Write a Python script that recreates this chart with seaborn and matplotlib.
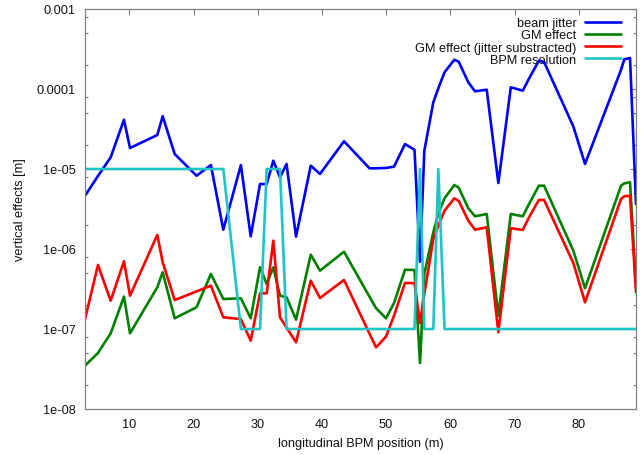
import numpy as np
import pandas as pd
import matplotlib
matplotlib.use("Agg")
import matplotlib.pyplot as plt
import matplotlib.ticker as mticker
import seaborn as sns

# ---- data ----
bpm_pos = [3.10, 5.12, 7.10, 9.17, 10.11, 14.36, 15.20, 17.07, 20.47, 22.71,
           24.64, 27.38, 28.91, 30.36, 31.40, 32.43, 33.47, 34.49, 35.97, 38.26,
           39.70, 43.44, 47.41, 48.43, 49.98, 51.23, 52.94, 54.42, 55.28, 55.95,
           57.35, 58.13, 59.10, 60.62, 61.31, 62.80, 63.85, 65.67, 67.48, 69.42,
           71.28, 72.26, 73.79, 74.60, 79.16, 80.98, 86.59, 87.10, 87.99, 88.92]

beam_jitter = [4.63e-6, 8.18e-6, 1.40e-5, 4.13e-5, 1.83e-5, 2.66e-5, 4.56e-5, 1.54e-5, 8.24e-6, 1.12e-5,
               1.74e-6, 1.12e-5, 1.44e-6, 6.49e-6, 6.49e-6, 1.27e-5, 7.87e-6, 1.155e-5, 1.43e-6, 1.10e-5,
               8.66e-6, 2.22e-5, 1.02e-5, 1.02e-5, 1.03e-5, 1.07e-5, 2.05e-5, 1.74e-5, 6.94e-7, 1.69e-5,
               6.82e-5, 1.02e-4, 1.62e-4, 2.32e-4, 2.19e-4, 1.21e-4, 9.36e-5, 9.80e-5, 6.68e-6, 1.05e-4,
               9.53e-5, 1.35e-4, 2.26e-4, 2.18e-4, 3.40e-5, 1.155e-5, 1.74e-4, 2.35e-4, 2.44e-4, 3.65e-6]

gm_effect = [3.48e-8, 5.01e-8, 8.83e-8, 2.54e-7, 8.83e-8, 3.32e-7, 5.11e-7, 1.36e-7, 1.87e-7, 4.87e-7,
             2.37e-7, 2.42e-7, 1.36e-7, 5.90e-7, 3.65e-7, 5.90e-7, 2.61e-7, 2.49e-7, 1.31e-7, 8.49e-7,
             5.36e-7, 9.25e-7, 2.53e-7, 1.82e-7, 1.36e-7, 2.11e-7, 5.51e-7, 5.47e-7, 3.76e-8, 4.87e-7,
             1.62e-6, 2.74e-6, 4.30e-6, 6.31e-6, 5.84e-6, 3.23e-6, 2.56e-6, 2.74e-6, 1.47e-7, 2.74e-6,
             2.56e-6, 3.65e-6, 6.18e-6, 6.18e-6, 9.53e-7, 3.23e-7, 6.18e-6, 6.62e-6, 6.82e-6, 3.45e-7]

gm_effect_sub = [1.33e-7, 6.31e-7, 2.26e-7, 7.02e-7, 2.61e-7, 1.50e-6, 6.82e-7, 2.30e-7, 2.95e-7, 3.48e-7,
                 1.40e-7, 1.33e-7, 7.14e-8, 2.79e-7, 2.79e-7, 1.27e-6, 1.40e-7, 1.04e-7, 6.82e-8, 4.02e-7,
                 2.44e-7, 4.10e-7, 8.76e-8, 5.90e-8, 8.02e-8, 1.47e-7, 3.76e-7, 3.74e-7, 1.19e-7, 2.74e-7,
                 1.33e-6, 1.95e-6, 3.01e-6, 4.30e-6, 3.98e-6, 2.26e-6, 1.74e-6, 1.87e-6, 9.10e-8, 1.82e-6,
                 1.73e-6, 2.49e-6, 4.10e-6, 4.10e-6, 6.68e-7, 2.16e-7, 4.22e-6, 4.56e-6, 4.63e-6, 2.88e-7]

bpm_resolution = [1e-5, 1e-5, 1e-5, 1e-5, 1e-5, 1e-5, 1e-5, 1e-5, 1e-5, 1e-5,
                  1e-5, 1e-7, 1e-7, 1e-7, 1e-5, 1e-5, 1e-5, 1e-7, 1e-7, 1e-7,
                  1e-7, 1e-7, 1e-7, 1e-7, 1e-7, 1e-7, 1e-7, 1e-7, 1e-5, 1e-7,
                  1e-7, 1e-5, 1e-7, 1e-7, 1e-7, 1e-7, 1e-7, 1e-7, 1e-7, 1e-7,
                  1e-7, 1e-7, 1e-7, 1e-7, 1e-7, 1e-7, 1e-7, 1e-7, 1e-7, 1e-7]

series_labels = ["beam jitter", "GM effect", "GM effect (jitter substracted)", "BPM resolution"]
series_colors = ["#0000ff", "#008000", "#ff0000", "#20c4c4"]

x_ticks = [10, 20, 30, 40, 50, 60, 70, 80]
y_ticks = [1e-8, 1e-7, 1e-6, 1e-5, 1e-4, 1e-3]
y_tick_labels = ["1e-08", "1e-07", "1e-06", "1e-05", "0.0001", "0.001"]

# ---- style ----
sns.set_theme(style="white")
plt.rcParams["font.family"] = ["Liberation Sans", "DejaVu Sans"]
FS = 9.2
plt.rcParams["font.size"] = FS

fig = plt.figure(figsize=(6.43, 4.56), dpi=100)
ax = fig.add_axes([85 / 643, 1 - 410 / 456, 551 / 643, 400 / 456])

values = [beam_jitter, gm_effect, gm_effect_sub, bpm_resolution]
for lab, col, vals in zip(series_labels, series_colors, values):
    df = pd.DataFrame({"pos": bpm_pos, "val": vals})
    sns.lineplot(data=df, x="pos", y="val", ax=ax, color=col, lw=1.9,
                 label=lab, estimator=None, sort=False)

ax.set_yscale("log")
ax.set_xlim(bpm_pos[0], bpm_pos[-1])
ax.set_ylim(y_ticks[0], y_ticks[-1])

ax.xaxis.set_major_locator(mticker.FixedLocator(x_ticks))
ax.yaxis.set_major_locator(mticker.FixedLocator(y_ticks))
ax.yaxis.set_major_formatter(mticker.FixedFormatter(y_tick_labels))
minor_y = [m * d for d in y_ticks[:-1] for m in (2, 5, 8)]
ax.yaxis.set_minor_locator(mticker.FixedLocator(minor_y))
ax.yaxis.set_minor_formatter(mticker.NullFormatter())
ax.xaxis.set_minor_locator(mticker.NullLocator())

axis_gray = "#808080"
for sp in ax.spines.values():
    sp.set_color(axis_gray)
    sp.set_linewidth(0.9)
ax.tick_params(axis="both", which="major", direction="in", length=4.5, width=0.8,
               color=axis_gray, labelcolor="#111111", labelsize=FS,
               top=True, right=True, pad=6.5)
ax.tick_params(axis="y", which="minor", direction="in", length=2.5, width=0.8,
               color=axis_gray, left=True, right=True)

ax.set_xlabel("longitudinal BPM position (m)", fontsize=FS, color="#111111", labelpad=5)
ax.set_ylabel("vertical effects [m]", fontsize=FS, color="#111111", labelpad=8)

leg = ax.legend(loc="upper right", bbox_to_anchor=(0.9728, 0.980), borderaxespad=0,
                borderpad=0, frameon=False, markerfirst=False, fontsize=FS,
                handlelength=2.85, handletextpad=0.65, labelspacing=0.02)
for t in leg.get_texts():
    t.set_color("#111111")

fig.savefig("out.png", dpi=100)
